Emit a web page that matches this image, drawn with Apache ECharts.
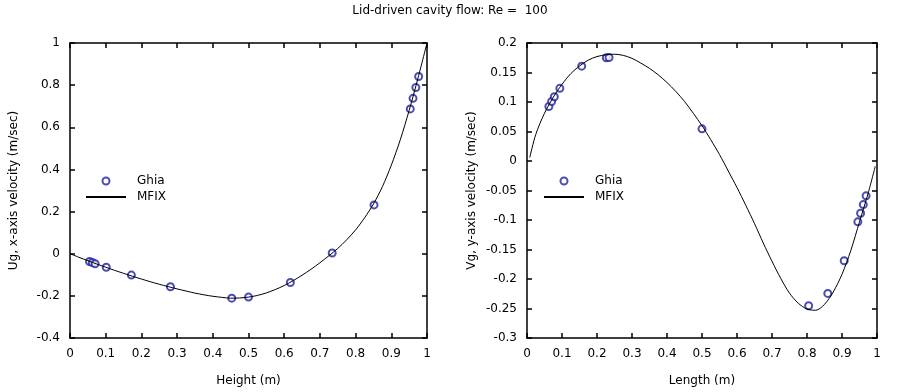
<!DOCTYPE html>
<html>
<head>
<meta charset="utf-8">
<script src="https://cdn.jsdelivr.net/npm/echarts@6/dist/echarts.min.js"></script>
<style>html,body{margin:0;padding:0;background:#fff}#c{width:900px;height:392px}</style>
</head>
<body>
<div id="c"></div>
<script>
// Left panel: u-velocity along vertical centerline
const ghiaHeight = [0.0547, 0.0625, 0.0703, 0.1016, 0.1719, 0.2813, 0.4531, 0.5000, 0.6172, 0.7344, 0.8516, 0.9531, 0.9609, 0.9688, 0.9766];
const ghiaU = [-0.03717, -0.04192, -0.04775, -0.06434, -0.10150, -0.15662, -0.21090, -0.20581, -0.13641, 0.00332, 0.23151, 0.68717, 0.73722, 0.78871, 0.84123];
const mfixHeight = [0, 0.025, 0.05, 0.075, 0.1, 0.125, 0.15, 0.175, 0.2, 0.225, 0.25, 0.275, 0.3, 0.325, 0.35, 0.375, 0.4, 0.425, 0.45, 0.475, 0.5, 0.525, 0.55, 0.575, 0.6, 0.625, 0.65, 0.675, 0.7, 0.725, 0.75, 0.775, 0.8, 0.825, 0.85, 0.875, 0.9, 0.925, 0.95, 0.975, 1.0];
const mfixU = [0, -0.017, -0.033, -0.049, -0.064, -0.079, -0.093, -0.107, -0.120, -0.133, -0.145, -0.156, -0.167, -0.177, -0.187, -0.195, -0.202, -0.207, -0.211, -0.210, -0.206, -0.198, -0.186, -0.170, -0.151, -0.128, -0.102, -0.074, -0.043, -0.010, 0.025, 0.066, 0.113, 0.170, 0.236, 0.318, 0.420, 0.540, 0.680, 0.835, 1.0];

// Right panel: v-velocity along horizontal centerline
const ghiaLength = [0.0625, 0.0703, 0.0781, 0.0938, 0.1563, 0.2266, 0.2344, 0.5000, 0.8047, 0.8594, 0.9063, 0.9453, 0.9531, 0.9609, 0.9688];
const ghiaV = [0.09233, 0.10091, 0.10890, 0.12317, 0.16077, 0.17507, 0.17527, 0.05454, -0.24533, -0.22445, -0.16914, -0.10313, -0.08864, -0.07391, -0.05906];
const mfixLength = [0.008, 0.025, 0.05, 0.075, 0.1, 0.125, 0.15, 0.175, 0.2, 0.225, 0.25, 0.275, 0.3, 0.325, 0.35, 0.375, 0.4, 0.425, 0.45, 0.475, 0.5, 0.525, 0.55, 0.575, 0.6, 0.625, 0.65, 0.675, 0.7, 0.725, 0.75, 0.775, 0.8, 0.825, 0.85, 0.875, 0.9, 0.925, 0.95, 0.975, 0.995];
const mfixV = [0.006, 0.045, 0.081, 0.108, 0.130, 0.148, 0.161, 0.171, 0.177, 0.180, 0.181, 0.179, 0.174, 0.166, 0.157, 0.146, 0.133, 0.118, 0.101, 0.081, 0.060, 0.036, 0.011, -0.017, -0.045, -0.075, -0.106, -0.139, -0.170, -0.199, -0.224, -0.241, -0.251, -0.253, -0.243, -0.222, -0.192, -0.152, -0.103, -0.054, -0.009];

const titleText = 'Lid-driven cavity flow: Re =  100';
const leftXName = 'Height (m)';
const leftYName = 'Ug, x-axis velocity (m/sec)';
const rightXName = 'Length (m)';
const rightYName = 'Vg, y-axis velocity (m/sec)';

const FONT = 'DejaVu Sans';
const MARK = '#1f1f9e';

function zip(a, b) { return a.map((v, i) => [v, b[i]]); }

function axis(grid, pos, min, max, interval, labels, name, nameGap) {
  const a = {
    type: 'value', gridIndex: grid, position: pos, min: min, max: max, interval: interval,
    axisLine: { show: true, onZero: false, lineStyle: { color: '#000', width: 1.5 } },
    axisTick: { show: true, inside: true, length: 5, lineStyle: { color: '#000', width: 1.5 } },
    axisLabel: { show: labels, color: '#000', fontFamily: FONT, fontSize: 12, margin: 10,
      formatter: v => String(parseFloat(v.toFixed(4))) },
    splitLine: { show: false }
  };
  if (name) {
    a.name = name; a.nameLocation = 'middle'; a.nameGap = nameGap;
    a.nameTextStyle = { color: '#000', fontFamily: FONT, fontSize: 12 };
  }
  return a;
}

const hiddenDot = { color: 'rgba(0,0,0,0)', borderColor: 'rgba(0,0,0,0)', borderWidth: 0 };
const legendText = { fontFamily: FONT, fontSize: 12, color: '#000', padding: [0, 0, 0, 6] };

const chart = echarts.init(document.getElementById('c'), null, { renderer: 'canvas' });
chart.setOption({
  backgroundColor: '#fff',
  animation: false,
  title: { text: titleText, left: 'center', top: 0, textStyle: { fontFamily: FONT, fontSize: 12, fontWeight: 'normal', color: '#000' } },
  grid: [
    { left: 70, right: 473, top: 43, bottom: 54 },
    { left: 527, right: 23, top: 43, bottom: 54 }
  ],
  xAxis: [
    axis(0, 'bottom', 0, 1, 0.1, true, leftXName, 37),
    axis(0, 'top', 0, 1, 0.1, false),
    axis(1, 'bottom', 0, 1, 0.1, true, rightXName, 37),
    axis(1, 'top', 0, 1, 0.1, false)
  ],
  yAxis: [
    axis(0, 'left', -0.4, 1, 0.2, true, leftYName, 50),
    axis(0, 'right', -0.4, 1, 0.2, false),
    axis(1, 'left', -0.3, 0.2, 0.05, true, rightYName, 49),
    axis(1, 'right', -0.3, 0.2, 0.05, false)
  ],
  legend: [
    { left: 85, top: 175, padding: 0, orient: 'vertical', itemWidth: 40, itemHeight: 7, itemGap: 4, textStyle: legendText,
      data: [{ name: 'Ghia' }, { name: 'MFIX', itemStyle: hiddenDot }] },
    { left: 543, top: 175, padding: 0, orient: 'vertical', itemWidth: 40, itemHeight: 7, itemGap: 4, textStyle: legendText,
      data: [{ name: 'Ghia ' }, { name: 'MFIX ', itemStyle: hiddenDot }] }
  ],
  series: [
    { name: 'MFIX', type: 'line', xAxisIndex: 0, yAxisIndex: 0, data: zip(mfixHeight, mfixU), smooth: 0.3,
      symbol: 'none', lineStyle: { color: '#000', width: 1 }, itemStyle: { color: '#000' } },
    { name: 'Ghia', type: 'scatter', xAxisIndex: 0, yAxisIndex: 0, data: zip(ghiaHeight, ghiaU),
      symbol: 'emptyCircle', symbolSize: 7, itemStyle: { color: MARK, borderColor: MARK, borderWidth: 0.8 } },
    { name: 'MFIX ', type: 'line', xAxisIndex: 2, yAxisIndex: 2, data: zip(mfixLength, mfixV), smooth: 0.3,
      symbol: 'none', lineStyle: { color: '#000', width: 1 }, itemStyle: { color: '#000' } },
    { name: 'Ghia ', type: 'scatter', xAxisIndex: 2, yAxisIndex: 2, data: zip(ghiaLength, ghiaV),
      symbol: 'emptyCircle', symbolSize: 7, itemStyle: { color: MARK, borderColor: MARK, borderWidth: 0.8 } }
  ]
});
</script>
</body>
</html>
